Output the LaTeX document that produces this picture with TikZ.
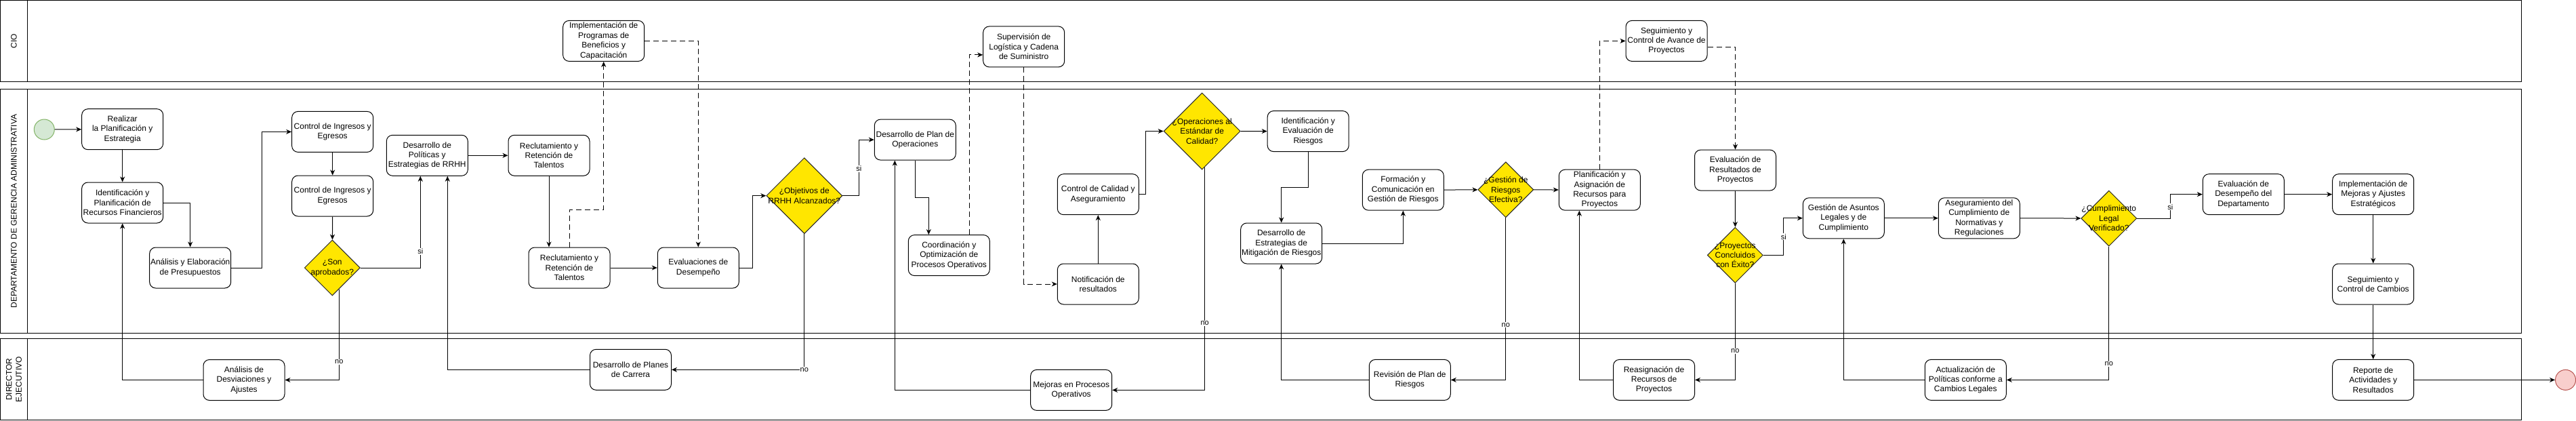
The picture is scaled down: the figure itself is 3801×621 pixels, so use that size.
\documentclass[tikz,border=0pt]{standalone}
\usepackage{fontspec}
\setmainfont{Liberation Sans}
\usepackage{tikz}
\usetikzlibrary{shapes.geometric, arrows.meta}

\definecolor{gateyellow}{RGB}{255,230,0}
\definecolor{startfill}{HTML}{D5E8D4}
\definecolor{startline}{HTML}{82B366}
\definecolor{endfill}{HTML}{F8CECC}
\definecolor{endline}{HTML}{B85450}

\begin{document}
\begin{tikzpicture}[x=1pt, y=-1pt, line width=1pt,
        every node/.style={font=\fontsize{12}{14.4}\selectfont},
        task/.style={rectangle, rounded corners=9pt, draw, fill=white, minimum width=120pt, minimum height=60pt, inner sep=1pt, align=center},
        gate/.style={diamond, draw=black!85, fill=gateyellow, minimum width=82pt, minimum height=82pt, inner sep=0pt},
        gatetext/.style={align=center, inner sep=0pt},
        event/.style={circle, minimum size=30pt, inner sep=0pt},
        flow/.style={-{Stealth[length=8pt, width=7pt, inset=2.5pt]}},
        msg/.style={flow, dash pattern=on 8pt off 5pt},
        lbl/.style={fill=white, inner sep=1pt, font=\fontsize{11}{13}\selectfont}]
        \useasboundingbox (0,0) rectangle (3801,621);

        % lanes
        \draw (0.5,0.5) rectangle (3720,120.5) (40.5,0.5) -- (40.5,120.5);
        \draw (0.5,131.5) rectangle (3720,491.8) (40.5,131.5) -- (40.5,491.8);
        \draw (0.5,499.8) rectangle (3720,619.5) (40.5,499.8) -- (40.5,619.5);
        \node (cio) [rotate=90] at (20.5,60.5) {CIO};
        \node (gerencia) [rotate=90] at (20.5,311.6) {DEPARTAMENTO DE GERENCIA ADMINISTRATIVA};
        \node (director) [rotate=90, align=center] at (20.5,559.7) {DIRECTOR\\EJECUTIVO};

        % finanzas
        \node (inicio) [event, draw=startline, fill=startfill] at (65.3,191) {};
        \node (planif) [task] at (180.7,190.7) {Realizar\\la Planificación y\\Estrategia};
        \node (recfin) [task] at (180.7,299) {Identificación y\\Planificación de\\Recursos Financieros};
        \node (presup) [task] at (280.7,395) {Análisis y Elaboración\\de Presupuestos};
        \node (ctrl1) [task] at (490.7,194.4) {Control de Ingresos y\\Egresos};
        \node (ctrl2) [task] at (490.7,289) {Control de Ingresos y\\Egresos};
        \node (aprob) [gate, label={[gatetext]center:{¿Son\\aprobados?}}] at (490.3,395) {};
        \node (desvia) [task] at (360,560.5) {Análisis de\\Desviaciones y\\Ajustes};

        % rrhh
        \node (polit) [task] at (630.3,229.3) {Desarrollo de\\Políticas y\\Estrategias de RRHH};
        \node (reclu1) [task] at (810,229.3) {Reclutamiento y\\Retención de\\Talentos};
        \node (reclu2) [task] at (840,395) {Reclutamiento y\\Retención de\\Talentos};
        \node (benef) [task] at (890.7,60.4) {Implementación de\\Programas de\\Beneficios y\\Capacitación};
        \node (evaldes) [task] at (1030.3,395) {Evaluaciones de\\Desempeño};
        \node (carrera) [task] at (930.5,545.3) {Desarrollo de Planes\\de Carrera};
        \node (objrrhh) [gate, minimum width=112pt, minimum height=112pt, label={[gatetext]center:{¿Objetivos de\\RRHH Alcanzados?}}] at (1186.8,288.7) {};

        % operaciones
        \node (planop) [task] at (1350.3,206.1) {Desarrollo de Plan de\\Operaciones};
        \node (coord) [task] at (1400.3,376.6) {Coordinación y\\Optimización de\\Procesos Operativos};
        \node (logis) [task] at (1510.7,68.9) {Supervisión de\\Logística y Cadena\\de Suministro};
        \node (notif) [task] at (1620.3,419) {Notificación de\\resultados};
        \node (mejoras) [task] at (1580.7,575.4) {Mejoras en Procesos\\Operativos};
        \node (calidad) [task] at (1620.3,286.7) {Control de Calidad y\\Aseguramiento};
        \node (opstd) [gate, minimum width=113pt, minimum height=113pt, label={[gatetext]center:{¿Operaciones al\\Estándar de\\Calidad?}}] at (1773.7,193.5) {};

        % riesgos
        \node (riesgo) [task] at (1930.2,193.6) {Identificación y\\Evaluación de\\Riesgos};
        \node (mitig) [task] at (1890.7,359) {Desarrollo de\\Estrategias de\\Mitigación de Riesgos};
        \node (formac) [task] at (2070.3,280.2) {Formación y\\Comunicación en\\Gestión de Riesgos};
        \node (revplan) [task] at (2080.3,560.4) {Revisión de Plan de\\Riesgos};
        \node (gesef) [gate, label={[gatetext]center:{¿Gestión de\\Riesgos\\Efectiva?}}] at (2221.8,279.8) {};

        % proyectos
        \node (asign) [task] at (2360.3,280.2) {Planificación y\\Asignación de\\Recursos para\\Proyectos};
        \node (avance) [task] at (2459,60.4) {Seguimiento y\\Control de Avance de\\Proyectos};
        \node (reasig) [task] at (2440.5,560.4) {Reasignación de\\Recursos de\\Proyectos};
        \node (evalres) [task] at (2560.5,251.1) {Evaluación de\\Resultados de\\Proyectos};
        \node (exito) [gate, label={[gatetext]center:{¿Proyectos\\Concluidos\\con Éxito?}}] at (2560.3,376.4) {};

        % legal y cierre
        \node (legal) [task] at (2720.3,321.8) {Gestión de Asuntos\\Legales y de\\Cumplimiento};
        \node (normas) [task] at (2920.3,321.8) {Aseguramiento del\\Cumplimiento de\\Normativas y\\Regulaciones};
        \node (cumpl) [gate, label={[gatetext]center:{¿Cumplimiento\\Legal\\Verificado?}}] at (3111.8,322.1) {};
        \node (actpol) [task] at (2900.3,560.4) {Actualización de\\Políticas conforme a\\Cambios Legales};
        \node (evaldep) [task] at (3310.3,286.7) {Evaluación de\\Desempeño del\\Departamento};
        \node (ajustes) [task] at (3501.7,286.7) {Implementación de\\Mejoras y Ajustes\\Estratégicos};
        \node (cambios) [task] at (3501.7,419) {Seguimiento y\\Control de Cambios};
        \node (reporte) [task] at (3501.7,560.4) {Reporte de\\Actividades y\\Resultados};
        \node (fin) [event, draw=endline, fill=endfill] at (3785.5,560.4) {};

        % flujo
        \draw[flow] (inicio) -- (planif);
        \draw[flow] (planif) -- (recfin);
        \draw[flow] (recfin.east) -| (presup.north);
        \draw[flow] (presup.east) -- ++(45,0) |- (ctrl1.west);
        \draw[flow] (ctrl1) -- (ctrl2);
        \draw[flow] (ctrl2) -- (aprob);
        \draw[flow] (aprob.east) -| node[lbl, pos=0.59] {si} ([xshift=-10pt]polit.south);
        \draw[flow] ([xshift=10pt,yshift=10pt]aprob.south) |- node[lbl, pos=0.4] {no} (desvia.east);
        \draw[flow] (desvia.west) -| (recfin.south);
        \draw[flow] (polit) -- (reclu1);
        \draw[flow] (reclu1.south) -- (reclu1.south |- reclu2.north);
        \draw[msg] (reclu2.north) -- ++(0,-55) -| (benef.south);
        \draw[flow] (reclu2) -- (evaldes);
        \draw[msg] (benef.east) -| (evaldes.north);
        \draw[flow] (carrera.west) -| ([xshift=30pt]polit.south);
        \draw[flow] (evaldes.east) -- ++(20,0) |- (objrrhh.west);
        \draw[flow] (objrrhh.south) |- node[lbl, pos=0.5] {no} (carrera.east);
        \draw[flow] (objrrhh.east) -- ++(24,0) |- node[lbl, pos=0.24] {si} (planop.west);
        \draw[flow] (planop.south) -- ++(0,55) -| ([xshift=-30pt]coord.north);
        \draw[msg] ([xshift=30pt]coord.north) |- ([yshift=-12pt]logis.west);
        \draw[msg] (logis.south) |- (notif.west);
        \draw[flow] (mejoras.west) -| ([xshift=-30pt]planop.south);
        \draw[flow] (notif) -- (calidad);
        \draw[flow] (calidad.east) -- ++(10,0) |- (opstd.west);
        \draw[flow] ([xshift=4pt,yshift=4pt]opstd.south) |- node[lbl, pos=0.35] {no} (mejoras.east);
        \draw[flow] (opstd.east) -- (riesgo.west);
        \draw[flow] (riesgo.south) -- ++(0,52) -| (mitig.north);
        \draw[flow] (mitig.east) -| (formac.south);
        \draw[flow] (revplan.west) -| (mitig.south);
        \draw[flow] (formac) -- (gesef);
        \draw[flow] (gesef.south) |- node[lbl, pos=0.33] {no} (revplan.east);
        \draw[flow] (gesef) -- (asign);
        \draw[msg] (asign.north) |- (avance.west);
        \draw[flow] (reasig.west) -| ([xshift=-30pt]asign.south);
        \draw[msg] ([yshift=-9pt]avance.east) -| (evalres.north);
        \draw[flow] (evalres) -- (exito);
        \draw[flow] (exito.south) |- node[lbl, pos=0.35] {no} (reasig.east);
        \draw[flow] (exito.east) -- ++(30,0) |- node[lbl, pos=0.25] {si} (legal.west);
        \draw[flow] (actpol.west) -| (legal.south);
        \draw[flow] (legal) -- (normas);
        \draw[flow] (normas) -- (cumpl);
        \draw[flow] (cumpl.south) |- node[lbl, pos=0.44] {no} (actpol.east);
        \draw[flow] (cumpl.east) -- ++(49,0) |- node[lbl, pos=0.24] {si} (evaldep.west);
        \draw[flow] (evaldep) -- (ajustes);
        \draw[flow] (ajustes) -- (cambios);
        \draw[flow] (cambios) -- (reporte);
        \draw[flow] (reporte) -- (fin);
\end{tikzpicture}
\end{document}
